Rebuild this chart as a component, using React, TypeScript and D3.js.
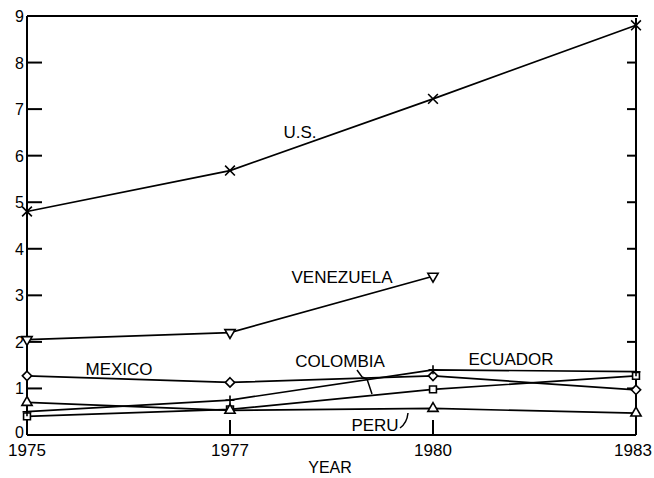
import React from "react";
import * as d3 from "d3";

const years = ["1975", "1977", "1980", "1983"];
const yTicks = [0, 1, 2, 3, 4, 5, 6, 7, 8, 9];
const rightTicks = [1, 2, 3, 4, 5, 6, 7, 8];

const usValues = [4.8, 5.68, 7.22, 8.8];
const venezuelaValues: (number | null)[] = [2.05, 2.2, 3.41, null];
const mexicoValues = [1.27, 1.13, 1.27, 0.97];
const ecuadorValues = [0.5, 0.75, 1.4, 1.36];
const colombiaValues = [0.4, 0.55, 0.98, 1.27];
const peruValues = [0.7, 0.53, 0.57, 0.47];

const seriesNames = ["U.S.", "VENEZUELA", "MEXICO", "ECUADOR", "COLOMBIA", "PERU"];

const W = 654;
const H = 478;
const FONT = "'Liberation Sans', Arial, sans-serif";

export default function App() {
  const x = d3.scalePoint<string>().domain(years).range([27, 636]).padding(0);
  const y = d3.scaleLinear().domain([0, 9]).range([435, 16]);

  const series = [
    { name: seriesNames[0], values: usValues as (number | null)[], symbol: d3.symbolTimes, size: 64, rotate: 0 },
    { name: seriesNames[1], values: venezuelaValues, symbol: d3.symbolTriangle2, size: 75, rotate: 180 },
    { name: seriesNames[2], values: mexicoValues as (number | null)[], symbol: d3.symbolDiamond2, size: 55, rotate: 0 },
    { name: seriesNames[4], values: colombiaValues as (number | null)[], symbol: d3.symbolSquare2, size: 60, rotate: 0 },
    { name: seriesNames[5], values: peruValues as (number | null)[], symbol: d3.symbolTriangle2, size: 75, rotate: 0 },
    { name: seriesNames[3], values: ecuadorValues as (number | null)[], symbol: d3.symbolPlus, size: 28, rotate: 0 },
  ];

  const line = d3
    .line<number | null>()
    .defined((d) => d !== null)
    .x((_, i) => x(years[i]) as number)
    .y((d) => y(d as number));

  const x0 = x(years[0]) as number;
  const x1 = x(years[years.length - 1]) as number;
  const yTop = y(9);
  const yBot = y(0);

  const labels = [
    { text: seriesNames[0], x: 300, y: 138 },
    { text: seriesNames[1], x: 342, y: 283 },
    { text: seriesNames[2], x: 119, y: 375 },
    { text: seriesNames[4], x: 340, y: 367 },
    { text: seriesNames[3], x: 511, y: 365 },
    { text: seriesNames[5], x: 375, y: 431 },
  ];

  return (
    <svg
      width={W}
      height={H}
      style={{ position: "absolute", left: 0, top: 0, background: "#fff" }}
      fontFamily={FONT}
    >
      <rect x={0} y={0} width={W} height={H} fill="#fff" />
      {/* frame */}
      <g stroke="#000" strokeWidth={2} fill="none">
        <line x1={x0} y1={yTop} x2={x1 + 2} y2={yTop} />
        <line x1={x0} y1={yTop} x2={x0} y2={yBot} />
        <line x1={x0} y1={yBot} x2={x1} y2={yBot} />
        <line x1={x1} y1={yTop + 2} x2={x1} y2={yBot} />
        {yTicks.slice(1, 9).map((t) => (
          <line key={"lt" + t} x1={x0} x2={x0 + 15} y1={y(t)} y2={y(t)} />
        ))}
        {rightTicks.map((t) => (
          <line key={"rt" + t} x1={x1} x2={x1 - 9} y1={y(t)} y2={y(t)} />
        ))}
        {years.slice(1, 3).map((yr) => (
          <line key={"bt" + yr} x1={x(yr)} x2={x(yr)} y1={yBot} y2={yBot - 15} />
        ))}
      </g>
      {/* y tick labels */}
      <g fontSize={16} textAnchor="end" fill="#000">
        {yTicks.map((t) => (
          <text key={"yl" + t} x={x0 - 3} y={y(t) + 6 - (t === 0 ? 3 : 0)}>
            {t}
          </text>
        ))}
      </g>
      {/* x tick labels */}
      <g fontSize={17} textAnchor="middle" fill="#000">
        {years.map((yr) => (
          <text key={"xl" + yr} x={(x(yr) as number) + (yr === "1983" ? -3 : 0)} y={456}>
            {yr}
          </text>
        ))}
        <text x={330} y={473} fontSize={16}>
          YEAR
        </text>
      </g>
      {/* lines */}
      <g fill="none" stroke="#000" strokeWidth={1.7}>
        {series.map((s) => (
          <path key={"ln" + s.name} d={line(s.values) || ""} />
        ))}
      </g>
      {/* markers */}
      <g fill="#fff" stroke="#000" strokeWidth={1.6}>
        {series.map((s) =>
          s.values.map((v, i) =>
            v === null ? null : (
              <path
                key={"mk" + s.name + i}
                d={d3.symbol(s.symbol, s.size)() || ""}
                transform={`translate(${x(years[i])},${y(v)}) rotate(${s.rotate})`}
              />
            )
          )
        )}
      </g>
      {/* leaders */}
      <g fill="none" stroke="#000" strokeWidth={1.5}>
        <path d="M357,370 L362,377 L367,379 L372,394" />
        <path d="M400,428 Q407,423 408,413" />
      </g>
      {/* series labels */}
      <g fontSize={17} textAnchor="middle" fill="#000">
        {labels.map((l) => (
          <text key={"lab" + l.text} x={l.x} y={l.y}>
            {l.text}
          </text>
        ))}
      </g>
    </svg>
  );
}
